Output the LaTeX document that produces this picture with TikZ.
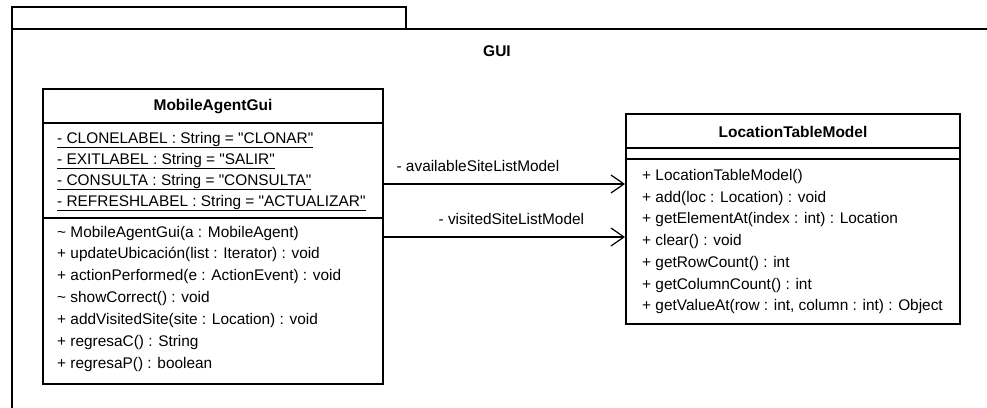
\documentclass[tikz,border=0pt]{standalone}
\usepackage{fontspec}
\setmainfont{Liberation Sans}
\usetikzlibrary{arrows.meta}
% underlined (static) attribute text
\newcommand\ulattr[1]{\setbox0\hbox{#1}\rlap{\rule[-5pt]{\wd0}{0.9pt}}\box0}
\newcommand\qq[1]{\textquotedbl#1\textquotedbl}
\begin{document}
\begin{tikzpicture}[x=1pt,y=-1pt,
  classbox/.style={draw, line width=2pt, inner sep=0pt, fill=white},
  member/.style={anchor=base west, inner sep=0pt, font=\fontsize{15.4}{18}\selectfont},
  classname/.style={anchor=base, inner sep=0pt, font=\fontsize{15.5}{18}\selectfont\bfseries},
  sepline/.style={line width=1.5pt},
  pkgline/.style={line width=2.4pt},
  assoc/.style={line width=1.2pt, -{Straight Barb[length=13pt,width=18pt,line width=1.2pt]}},
  role/.style={anchor=base west, inner sep=0pt, font=\fontsize{15.4}{18}\selectfont}]

\fill[white] (0,0) rectangle (987,407);
\useasboundingbox (0,0) rectangle (987,407);

% package GUI: tab and body
\draw[pkgline] (12,7) rectangle (406,29);
\draw[pkgline] (12,420) -- (12,29) -- (1000,29);
\node[classname] (pkgname) at (497,56) {GUI};

% class MobileAgentGui
\node[classbox, minimum width=340pt, minimum height=295pt] (mag) at (213,236.5) {};
\node[classname] (magname) at (213,110) {MobileAgentGui};
\draw[sepline] (mag.west |- 0,123) -- (mag.east |- 0,123);
\draw[sepline] (mag.west |- 0,218) -- (mag.east |- 0,218);
\node[member] (maga1) at (57,143) {\ulattr{- CLONELABEL : String = \qq{CLONAR}}};
\node[member] (maga2) at (57,164) {\ulattr{- EXITLABEL : String = \qq{SALIR}}};
\node[member] (maga3) at (57,185) {\ulattr{- CONSULTA : String = \qq{CONSULTA}}};
\node[member] (maga4) at (57,206) {\ulattr{- REFRESHLABEL : String = \qq{ACTUALIZAR}}};
\node[member] (mago1) at (57,237) {\textasciitilde\ MobileAgentGui(a : MobileAgent)};
\node[member] (mago2) at (57,258.9) {+ updateUbicación(list : Iterator) : void};
\node[member] (mago3) at (57,280.8) {+ actionPerformed(e : ActionEvent) : void};
\node[member] (mago4) at (57,302.7) {\textasciitilde\ showCorrect() : void};
\node[member] (mago5) at (57,324.6) {+ addVisitedSite(site : Location) : void};
\node[member] (mago6) at (57,346.5) {+ regresaC() : String};
\node[member] (mago7) at (57,368.4) {+ regresaP() : boolean};

% class LocationTableModel
\node[classbox, minimum width=334pt, minimum height=210pt] (ltm) at (793,219) {};
\node[classname] (ltmname) at (793,137) {LocationTableModel};
\draw[sepline] (ltm.west |- 0,148) -- (ltm.east |- 0,148);
\draw[sepline] (ltm.west |- 0,159) -- (ltm.east |- 0,159);
\node[member] (ltmo1) at (642,180.5) {+ LocationTableModel()};
\node[member] (ltmo2) at (642,202.2) {+ add(loc : Location) : void};
\node[member] (ltmo3) at (642,223.9) {+ getElementAt(index : int) : Location};
\node[member] (ltmo4) at (642,245.6) {+ clear() : void};
\node[member] (ltmo5) at (642,267.3) {+ getRowCount() : int};
\node[member] (ltmo6) at (642,289) {+ getColumnCount() : int};
\node[member] (ltmo7) at (642,310.7) {+ getValueAt(row : int, column : int) : Object};

% associations
\draw[assoc] ([yshift=52.5pt]mag.east) -- ([yshift=35pt]ltm.west)
  node[role, pos=0, xshift=12pt, yshift=13pt] (role1) {- availableSiteListModel};
\draw[assoc] ([yshift=-0.5pt]mag.east) -- ([yshift=-18pt]ltm.west)
  node[role, pos=0, xshift=54pt, yshift=13pt] (role2) {- visitedSiteListModel};
\end{tikzpicture}
\end{document}
